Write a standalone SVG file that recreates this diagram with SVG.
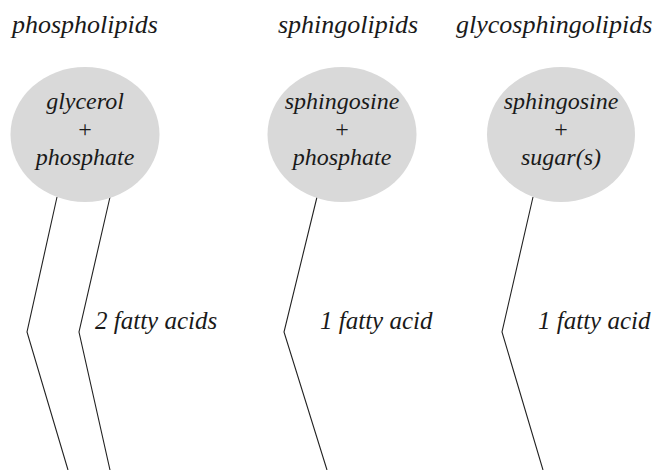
<svg xmlns="http://www.w3.org/2000/svg" width="660" height="470" viewBox="0 0 660 470">
<style>
.t{font-family:'Liberation Serif','Times New Roman',serif;font-style:italic;fill:#1a1a1a}
.title{font-size:26px}
.in{font-size:24px;text-anchor:middle}
.up{font-style:normal}
.lab{font-size:25px}
.head{fill:#d9d9d9}
.chain{fill:none;stroke:#222;stroke-width:1.1}
</style>
<rect width="660" height="470" fill="#fff"/>
<g id="titles">
<text class="t title" x="12" y="33">phospholipids</text>
<text class="t title" x="278" y="33">sphingolipids</text>
<text class="t title" x="456" y="33">glycosphingolipids</text>
</g>
<g id="connectors">
<polyline class="chain" points="57,197 27,332 68,470"/>
<polyline class="chain" points="110,197 79,332 110,470"/>
<polyline class="chain" points="317,197 284,332 327,470"/>
<polyline class="chain" points="533,197 502,332 543,470"/>
</g>
<g id="node-phospholipid">
<ellipse class="head" cx="85" cy="134.5" rx="74.5" ry="67.5"/>
<text class="t in" x="85" y="109">glycerol</text>
<text class="t in up" x="85" y="137">+</text>
<text class="t in" x="85" y="165">phosphate</text>
</g>
<g id="node-sphingolipid">
<ellipse class="head" cx="342" cy="134.5" rx="74.5" ry="67.5"/>
<text class="t in" x="342" y="109">sphingosine</text>
<text class="t in up" x="342" y="137">+</text>
<text class="t in" x="342" y="165">phosphate</text>
</g>
<g id="node-glycosphingolipid">
<ellipse class="head" cx="561" cy="134.5" rx="74" ry="67.5"/>
<text class="t in" x="561" y="109">sphingosine</text>
<text class="t in up" x="561" y="137">+</text>
<text class="t in" x="561" y="165">sugar(s)</text>
</g>
<g id="labels">
<text class="t lab" x="95" y="329">2 fatty acids</text>
<text class="t lab" x="320" y="329">1 fatty acid</text>
<text class="t lab" x="538" y="329">1 fatty acid</text>
</g>
</svg>
